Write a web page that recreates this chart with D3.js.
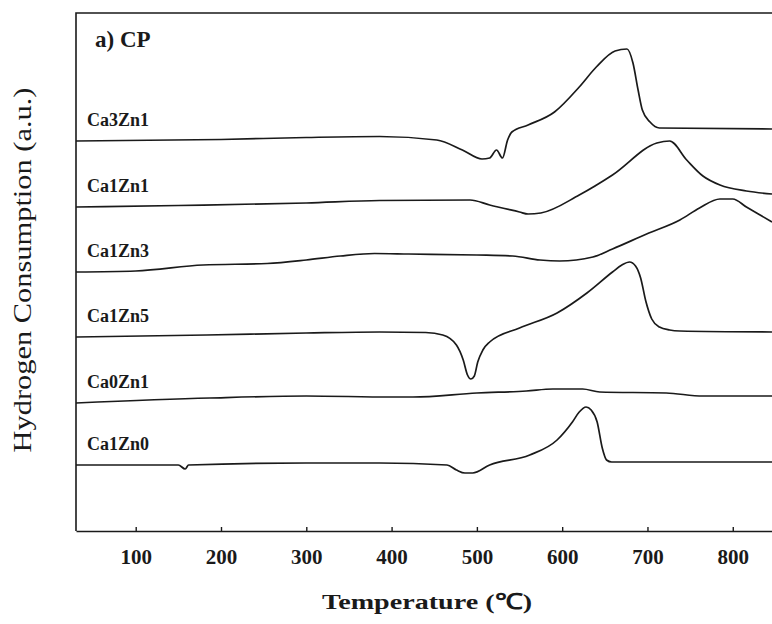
<!DOCTYPE html>
<html>
<head>
<meta charset="utf-8">
<title>TPR - a) CP</title>
<script type="text/javascript" src="https://cdn.jsdelivr.net/npm/d3@7/dist/d3.min.js"></script>
<style>
  body { margin: 0; background: #fff; }
  text { font-family: "Liberation Serif", "Times New Roman", serif; fill: #1a1a1a; }
</style>
</head>
<body>
<script type="text/javascript">
// TPR profiles, [temperature (°C), hydrogen consumption (a.u.)]
var ca3zn1 = [[30,39.0],[200,39.15],[300,39.35],[386,39.45],[453,39.1],[483,38.1],[506,37.2],[515,37.3],
  [523,38.1],[530,37.3],[536,39.1],[541,39.9],[560,40.6],[591,41.9],[620,44.4],[640,46.4],[662,48.0],
  [676,48.2],[683,46.8],[689,44.1],[694,42.1],[703,40.9],[714,40.3],[846,40.2]];
var ca1zn1 = [[30,32.4],[150,32.55],[300,32.8],[386,33.05],[492,33.1],[515,32.6],[550,31.9],[560,31.7],
  [575,31.8],[620,33.6],[659,35.6],[711,38.8],[726,39.0],[746,37.1],[765,35.5],[785,34.6],[816,34.0],[846,33.7]];
var ca1zn3 = [[30,25.9],[100,26.0],[179,26.6],[254,26.75],[300,27.1],[340,27.5],[380,27.75],[420,27.7],
  [500,27.6],[542,27.5],[574,27.1],[597,27.0],[636,27.4],[659,28.2],[699,29.7],[738,31.1],[761,32.3],
  [785,33.2],[800,33.2],[816,32.4],[846,30.9]];
var ca1zn5 = [[30,19.4],[183,19.6],[300,19.8],[386,19.9],[440,19.85],[460,19.6],[476,18.6],[484,17.1],
  [489,15.6],[493,15.2],[497,15.5],[501,16.9],[507,18.1],[515,18.9],[550,20.3],[594,21.8],[629,23.8],
  [659,25.9],[670,26.6],[679,26.9],[686,26.5],[692,25.3],[698,23.0],[705,21.2],[714,20.4],[726,20.1],
  [738,20.0],[846,19.9]];
var ca0zn1 = [[30,12.8],[187,13.3],[300,13.5],[398,13.4],[425,13.4],[500,13.8],[558,14.0],[589,14.2],
  [624,14.2],[644,13.9],[722,13.8],[765,13.5],[846,13.5]];
var ca1zn0 = [[30,6.6],[150,6.6],[158,6.2],[162,6.6],[300,6.8],[386,6.8],[465,6.6],[476,6.1],[486,5.8],
  [495,5.8],[515,6.6],[562,7.6],[594,9.1],[612,10.9],[620,11.9],[628,12.4],[634,12.1],[641,10.9],
  [647,8.3],[652,7.1],[658,6.9],[846,6.9]];

var sampleNames = ['Ca3Zn1', 'Ca1Zn1', 'Ca1Zn3', 'Ca1Zn5', 'Ca0Zn1', 'Ca1Zn0'];
var profiles = [ca3zn1, ca1zn1, ca1zn3, ca1zn5, ca0zn1, ca1zn0];
var xTicks = [100, 200, 300, 400, 500, 600, 700, 800];

var W = 772, H = 624;
var plotLeft = 76, plotTop = 13, plotBottom = 531;

var svg = d3.select('body').append('svg')
  .attr('width', W)
  .attr('height', H);

var x = d3.scaleLinear().domain([30, 846]).range([plotLeft, W]);
var y = d3.scaleLinear().domain([0, 51.8]).range([plotBottom, plotTop]);

svg.append('clipPath').attr('id', 'plot')
  .append('rect').attr('x', plotLeft).attr('y', plotTop)
  .attr('width', W - plotLeft).attr('height', plotBottom - plotTop);

// frame: left and top edges
svg.append('path')
  .attr('d', 'M' + plotLeft + ',' + plotBottom + 'V' + plotTop + 'H' + W)
  .attr('fill', 'none').attr('stroke', '#1a1a1a').attr('stroke-width', 1.6);

// bottom axis, ticks pointing inward
var xAxis = svg.append('g')
  .attr('transform', 'translate(0,' + plotBottom + ')')
  .call(d3.axisBottom(x).tickValues(xTicks).tickSize(-4).tickPadding(18).tickSizeOuter(0));
xAxis.select('.domain').attr('stroke', '#1a1a1a').attr('stroke-width', 1.6);
xAxis.selectAll('.tick line').attr('stroke', '#1a1a1a').attr('stroke-width', 1.4);
xAxis.selectAll('.tick text')
  .style('font-family', '"Liberation Serif", serif')
  .style('font-size', '21px').style('font-weight', 'bold').attr('fill', '#1a1a1a');

var line = d3.line()
  .x(function(d) { return x(d[0]); })
  .y(function(d) { return y(d[1]); })
  .curve(d3.curveMonotoneX);

var curves = svg.append('g').attr('clip-path', 'url(#plot)');
profiles.forEach(function(p, i) {
  curves.append('path')
    .attr('d', line(p))
    .attr('fill', 'none')
    .attr('stroke', '#1a1a1a')
    .attr('stroke-width', 1.7);
  // sample name just above the start of its trace
  svg.append('text')
    .attr('x', 87)
    .attr('y', y(p[0][1]) - 15)
    .style('font-size', '18px')
    .style('font-weight', 'bold')
    .text(sampleNames[i]);
});

svg.append('text')
  .attr('x', 95).attr('y', 47)
  .style('font-size', '23px').style('font-weight', 'bold')
  .text('a) CP');

svg.append('text')
  .attr('x', 322).attr('y', 609)
  .attr('textLength', 210).attr('lengthAdjust', 'spacingAndGlyphs')
  .style('font-size', '22px').style('font-weight', 'bold')
  .text('Temperature (\u2103)');

svg.append('text')
  .attr('transform', 'translate(31,270) rotate(-90)')
  .attr('text-anchor', 'middle')
  .attr('textLength', 365).attr('lengthAdjust', 'spacingAndGlyphs')
  .style('font-size', '25px')
  .text('Hydrogen Consumption (a.u.)');
</script>
</body>
</html>
